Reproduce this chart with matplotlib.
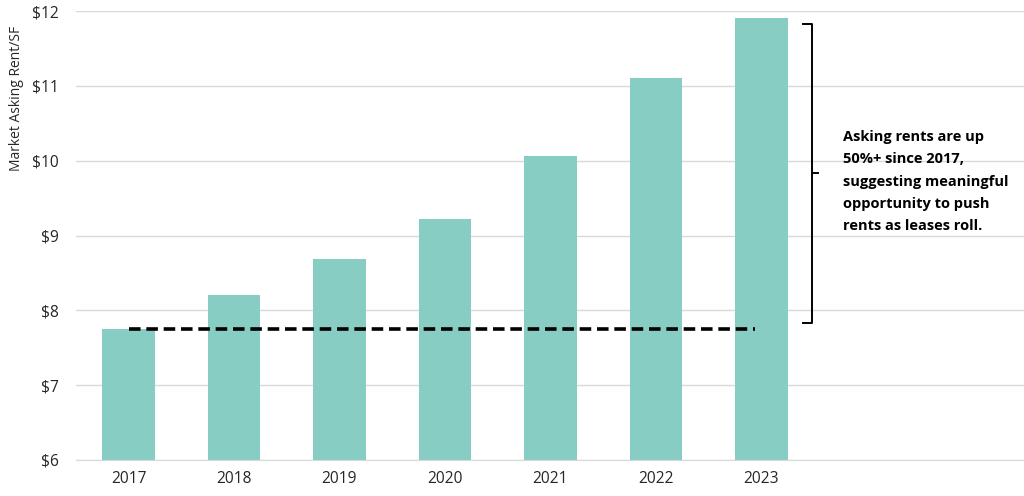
import numpy as np
import matplotlib.pyplot as plt

# chart data
years = ['2017', '2018', '2019', '2020', '2021', '2022', '2023']
rent = [7.75, 8.21, 8.69, 9.22, 10.06, 11.10, 11.91]
base_2017 = 7.75
ytick_vals = [6, 7, 8, 9, 10, 11, 12]
note = 'Asking rents are up\n50%+ since 2017,\nsuggesting meaningful\nopportunity to push\nrents as leases roll.'

plt.rcParams['font.family'] = ['Open Sans', 'DejaVu Sans']

fig = plt.figure(figsize=(10.24, 4.96), dpi=100)
ax = fig.add_axes([0.074, 0.0726, 0.926, 0.905])

x = np.arange(len(years))
ax.bar(x, rent, width=0.5, color='#88cdc4', zorder=2)

# 2017 baseline
ax.plot([x[0], x[-1] - 0.06], [base_2017, base_2017], color='black',
        linestyle=(0, (3.2, 1.6)), linewidth=2.6, zorder=3)

ax.set_ylim(6, 12)
ax.set_xlim(-0.5, 8.49)
ax.set_yticks(ytick_vals)
ax.set_yticklabels(['$%d' % v for v in ytick_vals])
ax.set_xticks(x)
ax.set_xticklabels(years)
ax.tick_params(length=0, labelsize=11.2, labelcolor='#262626')
ax.tick_params(axis='y', pad=12)
ax.tick_params(axis='x', pad=8)
ax.grid(axis='y', color='#d9d9d9', linewidth=1, zorder=0)
for s in ['top', 'right', 'left']:
    ax.spines[s].set_visible(False)
ax.spines['bottom'].set_color('#d9d9d9')
ax.set_ylabel('Market Asking Rent/SF', fontsize=10, color='#262626')
ax.yaxis.set_label_coords(-0.055, 0.805)

# bracket
bx = 6.48
top, bot = 11.83, 7.83
mid = (top + bot) / 2
ax.plot([bx - 0.09, bx, bx, bx - 0.09], [top, top, bot, bot], color='black',
        linewidth=1.4, clip_on=False)
ax.plot([bx, bx + 0.06], [mid, mid], color='black', linewidth=1.4)

ax.text(6.77, 9.72, note, fontsize=10.5, fontweight='bold', va='center',
        ha='left', linespacing=1.75, color='black')

fig.savefig('out.png', dpi=100)
